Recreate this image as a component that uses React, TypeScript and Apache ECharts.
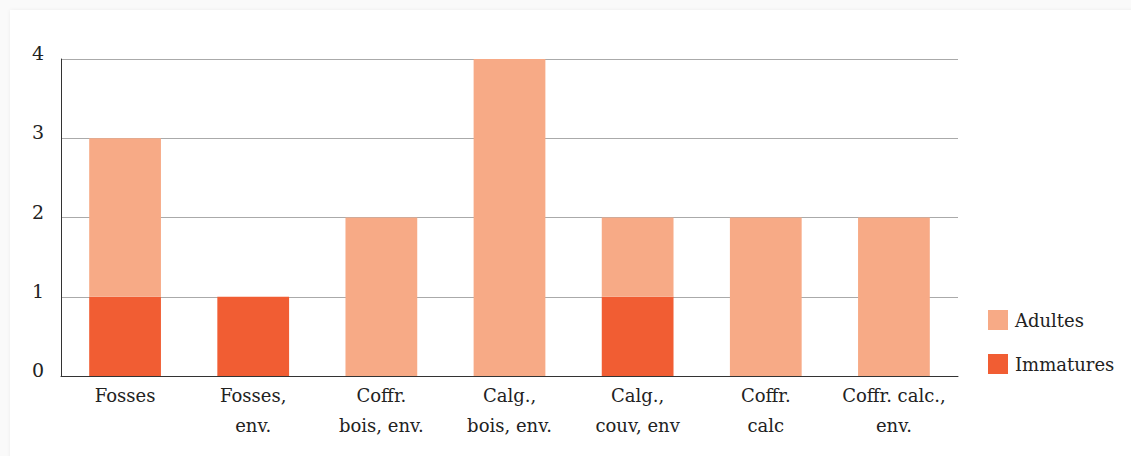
import React, { useEffect, useRef } from "react";
import * as echarts from "echarts";

const categories = [
  "Fosses",
  "Fosses,\nenv.",
  "Coffr.\nbois, env.",
  "Calg.,\nbois, env.",
  "Calg.,\ncouv, env",
  "Coffr.\ncalc",
  "Coffr. calc.,\nenv.",
];
const immatures = [1, 1, 0, 0, 1, 0, 0];
const adultes = [2, 0, 2, 4, 1, 2, 2];
const yTicks = [0, 1, 2, 3, 4];

const FONT = "DejaVu Serif";

export default function App() {
  const ref = useRef<HTMLDivElement>(null);
  useEffect(() => {
    if (!ref.current) return;
    const chart = echarts.init(ref.current, null, { renderer: "svg" });
    chart.setOption({
      animation: false,
      backgroundColor: "transparent",
      textStyle: { fontFamily: FONT, color: "#222" },
      grid: { left: 61, right: 173, top: 59, bottom: 80 },
      legend: {
        orient: "vertical",
        left: 983,
        top: 305,
        itemWidth: 20,
        itemHeight: 20,
        itemGap: 24,
        icon: "rect",
        data: ["Adultes", "Immatures"],
        textStyle: { fontFamily: FONT, fontSize: 18, color: "#222", padding: [0, 0, 0, 2] },
      },
      xAxis: {
        type: "category",
        data: categories,
        axisLine: { lineStyle: { color: "#333", width: 1 } },
        axisTick: { inside: true, length: 8, lineStyle: { color: "#333" } },
        axisLabel: {
          fontFamily: FONT,
          fontSize: 18,
          color: "#222",
          lineHeight: 30,
          margin: 4,
          interval: 0,
        },
      },
      yAxis: {
        type: "value",
        min: yTicks[0],
        max: yTicks[yTicks.length - 1],
        interval: 1,
        axisLine: { show: true, lineStyle: { color: "#333", width: 1 } },
        axisTick: { show: false },
        splitLine: { lineStyle: { color: "#aaa", width: 1 } },
        axisLabel: {
          fontFamily: FONT,
          fontSize: 19,
          color: "#222",
          margin: 17,
          verticalAlign: "bottom",
          lineHeight: 12,
        },
      },
      series: [
        {
          name: "Immatures",
          type: "bar",
          stack: "a",
          data: immatures,
          barWidth: "56%",
          itemStyle: { color: "#F15D33" },
        },
        {
          name: "Adultes",
          type: "bar",
          stack: "a",
          data: adultes,
          barWidth: "56%",
          itemStyle: { color: "#F7AA86" },
        },
      ],
    });
    return () => chart.dispose();
  }, []);
  return (
    <div
      style={{
        position: "fixed",
        left: 0,
        top: 0,
        width: 1131,
        height: 456,
        background: "#fafafa",
      }}
    >
      <div
        style={{
          position: "absolute",
          left: 10,
          top: 10,
          width: 1131,
          height: 456,
          background: "#fff",
          boxShadow: "0 0 4px rgba(0,0,0,0.06)",
        }}
      />
      <div
        ref={ref}
        style={{ position: "absolute", left: 0, top: 0, width: 1131, height: 456 }}
      />
    </div>
  );
}
